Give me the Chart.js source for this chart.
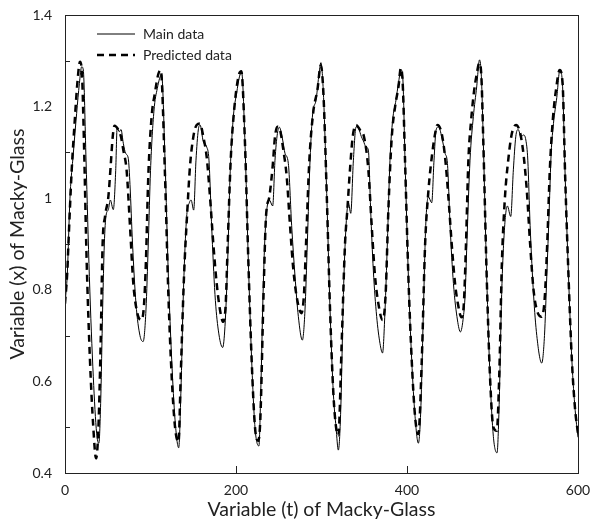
<!DOCTYPE html>
<html>
<head>
<meta charset="utf-8">
<script src="https://cdn.jsdelivr.net/npm/chart.js@4/dist/chart.umd.min.js"></script>
<style>
  html, body { margin: 0; padding: 0; background: #fff; }
  #wrap { width: 590px; height: 524px; }
</style>
</head>
<body>
<div id="wrap"><canvas id="mg" width="590" height="524"></canvas></div>
<script>
const mainT = [0, 2.7, 5.8, 9.7, 13.6, 16.8, 19.5, 21.4, 24.6, 28.5, 33.1, 37, 39.6, 41.7, 44, 46, 48, 50.7, 53, 56.5, 59.3, 61, 63.5, 65.5, 68.2, 70.9, 74, 76, 79, 83, 87.7, 91.4, 94.7, 97.4, 100, 104, 108, 113,
  117, 120.9, 124.8, 128.7, 133, 135.5, 138.4, 142.3, 145.4, 147.5, 150.5, 153.2, 155.9, 158, 161.8, 165.7, 168.4, 171.5, 175.4, 179.3, 184.4, 187.1, 190.3, 193, 196.9, 200.8, 204, 206.6,
  210.5, 214.4, 218.3, 222.2, 226.8, 229, 231.5, 233.5, 236, 239, 242.9, 245.6, 248.4, 250.7, 254.6, 257.3, 261.2, 265.1, 269, 272.9, 277.6, 280.7, 283.4, 286.6, 289.7, 293.6, 296.7, 299.3,
  302.2, 306.1, 310, 313.9, 317, 319.7, 322.5, 325.6, 328.7, 331.5, 334.2, 337.3, 340.5, 343.5, 346.5, 349, 352, 354.8, 357.5, 360.6, 364.5, 368.4, 371.4, 374.3, 377, 380.1, 383.2, 387.1, 389.9, 393,
  395, 397.7, 401.6, 405.5, 409.4, 413.3, 416.1, 419.2, 421.9, 425, 428.9, 431.6, 434, 437, 440.6, 444.5, 447.3, 450.4, 454.3, 459, 462.5, 466, 468, 470, 473.7, 477.6, 481.5, 484.8,
  487, 489.3, 493.2, 497.1, 501, 505.3, 507.6, 510.7, 513.9, 517.4, 521.3, 524.4, 527.2, 530, 533.5, 536.2, 539, 541.3, 544, 548, 551.8, 557.6, 560.8, 563.5, 566.3, 568.6, 571.3, 575.2, 578.8,
  581.8, 585, 588.9, 592.8, 596.7, 600];
const mainX = [0.77, 0.835, 1.0, 1.097, 1.185, 1.25, 1.287, 1.28, 1.083, 0.829, 0.61, 0.487, 0.465, 0.552, 0.756, 0.9, 0.962, 0.975, 0.996, 0.975, 1.06, 1.155, 1.145, 1.15, 1.12, 1.098, 1.087, 1.03, 0.9, 0.77, 0.7, 0.687, 0.756, 0.9, 1.06, 1.19, 1.24, 1.27,
  1.083, 0.83, 0.647, 0.516, 0.455, 0.573, 0.79, 0.96, 0.99, 0.996, 0.974, 1.083, 1.149, 1.16, 1.123, 1.112, 1.083, 0.94, 0.79, 0.712, 0.674, 0.72, 0.865, 1.047, 1.178, 1.23, 1.265, 1.275,
  1.12, 0.865, 0.647, 0.5, 0.459, 0.58, 0.78, 0.9, 0.974, 0.996, 0.983, 1.083, 1.141, 1.155, 1.127, 1.098, 1.076, 0.94, 0.83, 0.742, 0.69, 0.756, 0.9, 1.083, 1.185, 1.214, 1.265, 1.296,
  1.23, 1.01, 0.756, 0.573, 0.5, 0.45, 0.537, 0.79, 0.94, 0.99, 0.967, 1.083, 1.156, 1.152, 1.135, 1.125, 1.112, 1.105, 0.974, 0.843, 0.742, 0.683, 0.662, 0.756, 0.9, 1.083, 1.17, 1.214, 1.25, 1.28,
  1.265, 1.083, 0.83, 0.647, 0.524, 0.465, 0.537, 0.756, 0.94, 1.003, 0.99, 1.083, 1.149, 1.156, 1.134, 1.098, 1.076, 0.94, 0.814, 0.734, 0.708, 0.742, 0.79, 0.9, 1.083, 1.178, 1.243, 1.302,
  1.265, 1.12, 0.83, 0.61, 0.48, 0.444, 0.537, 0.79, 0.93, 0.983, 0.96, 1.062, 1.134, 1.15, 1.134, 1.138, 1.127, 1.083, 0.94, 0.79, 0.7, 0.64, 0.7, 0.83, 0.974, 1.098, 1.163, 1.22, 1.28,
  1.25, 1.047, 0.83, 0.647, 0.537, 0.478];

// predicted series
const predT = [0, 2.7, 4, 7.8, 11.7, 14.4, 17.5, 19.9, 22.2, 25.3, 29.2, 33.1, 36.3, 39, 41.7, 44, 46.8, 50.7, 53.4, 55.8, 57.9, 62.4, 65.5, 68.2, 72.1, 76, 79.9, 84.6, 89.5, 92.5, 94.7, 97.4, 101.3, 105.2, 109, 112,
  117, 120.9, 124.8, 128.7, 132.8, 135.3, 139.2, 143.1, 146.2, 150.1, 154, 157.9, 161.8, 165.7, 169.6, 173.5, 177.4, 181.3, 185, 188, 190.3, 193.8, 197.7, 202.8, 206.2,
  210.5, 214.4, 218.3, 222.2, 226, 228.5, 232.2, 235.1, 239, 242.9, 245.6, 248.4, 251.5, 255.4, 259.3, 263.2, 267.1, 271.7, 276.5, 279.5, 281.9, 285.8, 290.5, 295.2, 299.1,
  302.2, 306.1, 310, 313.9, 317, 319.7, 323.6, 327.5, 330.2, 333.3, 336.5, 340.4, 345, 349.7, 354.8, 358.7, 362.6, 366.5, 371.5, 375, 378.2, 382.2, 386.1, 390, 392.8,
  395, 397.7, 401.6, 405.5, 409.4, 413.3, 417.3, 421.2, 425.1, 429, 432.9, 435.6, 440.6, 444.5, 448.4, 452.3, 456.2, 459.5, 463.7, 466.5, 469, 471.8, 475, 478.5, 481.5, 484.5,
  487, 489.3, 493.2, 497.1, 501, 505, 508, 511, 514.5, 518.5, 522.5, 527.5, 532, 536, 540, 544, 548, 552, 557.5, 561, 564, 567, 570.5, 574.5, 578.5,
  582, 585, 588.9, 592.8, 596.7, 600];
const predX = [0.77, 0.84, 0.9, 1.06, 1.178, 1.25, 1.298, 1.27, 1.12, 0.865, 0.647, 0.5, 0.432, 0.494, 0.683, 0.9, 0.96, 1.003, 1.07, 1.134, 1.158, 1.149, 1.134, 1.105, 1.06, 0.94, 0.814, 0.749, 0.734, 0.77, 0.865, 1.047, 1.178, 1.23, 1.27, 1.28,
  1.047, 0.79, 0.61, 0.5, 0.468, 0.61, 0.83, 0.974, 1.07, 1.134, 1.16, 1.163, 1.134, 1.09, 1.003, 0.9, 0.814, 0.756, 0.73, 0.77, 0.9, 1.083, 1.19, 1.265, 1.277,
  1.12, 0.865, 0.647, 0.5, 0.47, 0.52, 0.79, 0.96, 1.003, 1.07, 1.134, 1.156, 1.149, 1.105, 1.047, 0.94, 0.843, 0.777, 0.749, 0.79, 0.9, 1.083, 1.19, 1.236, 1.29,
  1.23, 1.01, 0.756, 0.573, 0.5, 0.482, 0.683, 0.9, 0.974, 1.062, 1.134, 1.16, 1.149, 1.134, 1.062, 0.94, 0.83, 0.77, 0.734, 0.79, 0.974, 1.134, 1.2, 1.243, 1.284,
  1.25, 1.083, 0.83, 0.647, 0.524, 0.485, 0.647, 0.9, 1.017, 1.09, 1.141, 1.16, 1.141, 1.09, 1.003, 0.9, 0.814, 0.77, 0.74, 0.77, 0.9, 1.083, 1.17, 1.235, 1.27, 1.295,
  1.265, 1.12, 0.83, 0.61, 0.5, 0.492, 0.62, 0.86, 1.0, 1.085, 1.14, 1.16, 1.145, 1.1, 1.02, 0.9, 0.8, 0.755, 0.741, 0.78, 0.9, 1.06, 1.17, 1.24, 1.28,
  1.25, 1.047, 0.83, 0.647, 0.537, 0.487];

const xTicks = [0, 200, 400, 600];
const yTicks = [0.4, 0.6, 0.8, 1, 1.2, 1.4];
const yMarks = [0.5, 0.7, 0.9, 1.1, 1.3];   // short inside ticks on the y axis
const xMarks = [200, 400];                  // short inside ticks on the x axis
const seriesNames = ["Main data", "Predicted data"];

const FONT = "Lato, 'Liberation Sans', sans-serif";
const INK = "#000";

const toPoints = (ts, vs) => ts.map((t, i) => ({ x: t, y: vs[i] }));

// frame, inner tick marks and the legend in the top-left corner
const framePlugin = {
  id: "frame",
  afterDraw(chart) {
    const { ctx, chartArea: a, scales } = chart;
    ctx.save();
    ctx.strokeStyle = "#222";
    ctx.lineWidth = 1;
    ctx.setLineDash([]);
    ctx.strokeRect(Math.round(a.left) + 0.5, Math.round(a.top) + 0.5,
      Math.round(a.right - a.left), Math.round(a.bottom - a.top));

    ctx.beginPath();
    yMarks.forEach((v) => {
      const py = Math.round(scales.y.getPixelForValue(v)) + 0.5;
      ctx.moveTo(a.left, py);
      ctx.lineTo(a.left + 5, py);
    });
    xMarks.forEach((v) => {
      const px = Math.round(scales.x.getPixelForValue(v)) + 0.5;
      ctx.moveTo(px, a.bottom);
      ctx.lineTo(px, a.bottom - 7);
    });
    ctx.stroke();

    // legend
    const lx = a.left + 32, tx = a.left + 78;
    const rows = [a.top + 19, a.top + 40];
    chart.data.datasets.forEach((ds, i) => {
      ctx.beginPath();
      ctx.lineWidth = ds.borderWidth;
      ctx.setLineDash(ds.borderDash || []);
      ctx.strokeStyle = ds.borderColor;
      ctx.moveTo(lx, rows[i]);
      ctx.lineTo(lx + 38, rows[i]);
      ctx.stroke();
      ctx.setLineDash([]);
      ctx.fillStyle = "#222";
      ctx.font = "14px " + FONT;
      ctx.textBaseline = "middle";
      ctx.textAlign = "left";
      ctx.fillText(ds.label, tx, rows[i]);
    });
    ctx.restore();
  },
};

const noEdgePadding = (s) => {
  s.paddingLeft = 0;
  s.paddingRight = 0;
  s.paddingTop = 0;
  s.paddingBottom = 0;
};

new Chart(document.getElementById("mg"), {
  type: "line",
  data: {
    datasets: [
      {
        label: seriesNames[0],
        data: toPoints(mainT, mainX),
        borderColor: INK,
        borderWidth: 1,
        pointRadius: 0,
        cubicInterpolationMode: "monotone",
        order: 2,
      },
      {
        label: seriesNames[1],
        data: toPoints(predT, predX),
        borderColor: INK,
        borderWidth: 2.5,
        borderDash: [7, 5],
        pointRadius: 0,
        cubicInterpolationMode: "monotone",
        order: 1,
      },
    ],
  },
  options: {
    responsive: false,
    animation: false,
    layout: { padding: { top: 15, right: 12, left: 0, bottom: 0 } },
    plugins: { legend: { display: false }, tooltip: { enabled: false } },
    scales: {
      x: {
        type: "linear",
        min: 0,
        max: 600,
        afterBuildTicks: (s) => { s.ticks = xTicks.map((v) => ({ value: v })); },
        afterFit: (s) => { s.height = 51; noEdgePadding(s); },
        grid: { display: false, drawTicks: false },
        border: { display: false },
        ticks: { color: "#222", padding: 9, maxRotation: 0, font: { family: FONT, size: 14 } },
        title: {
          display: true,
          text: "Variable (t) of Macky-Glass",
          color: "#222",
          padding: { top: 0, bottom: 3 },
          font: { family: FONT, size: 19.5 },
        },
      },
      y: {
        min: 0.4,
        max: 1.4,
        afterBuildTicks: (s) => { s.ticks = yTicks.map((v) => ({ value: v })); },
        afterFit: (s) => { s.width = 65; noEdgePadding(s); },
        grid: { display: false, drawTicks: false },
        border: { display: false },
        ticks: {
          color: "#222",
          padding: 13,
          font: { family: FONT, size: 14 },
          callback: (v) => String(Number(v.toFixed(1))),
        },
        title: {
          display: true,
          text: "Variable (x) of Macky-Glass",
          color: "#222",
          padding: { top: 6, bottom: 0 },
          font: { family: FONT, size: 19.5 },
        },
      },
    },
  },
  plugins: [framePlugin],
});
</script>
</body>
</html>
